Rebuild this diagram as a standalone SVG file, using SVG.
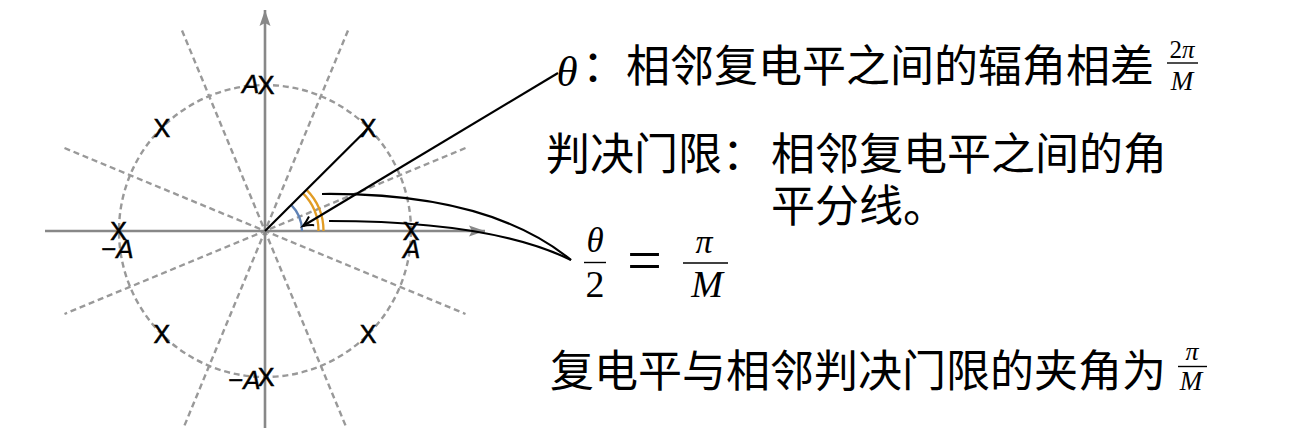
<svg xmlns="http://www.w3.org/2000/svg" width="1316" height="428" viewBox="0 0 1316 428">
<style>
.dash{stroke:#999999;stroke-width:2.4;stroke-dasharray:6 3.8;fill:none}
.axis{stroke:#888888;stroke-width:2.6;fill:none}
.blk{stroke:#000;stroke-width:2.2;fill:none}
.mk{font-family:"Liberation Sans",Arial,sans-serif;font-size:25px;text-anchor:middle;fill:#000;stroke:#000;stroke-width:0.6}
.lab{font-family:"Liberation Sans",Arial,sans-serif;font-size:26px;font-style:italic;fill:#000;stroke:#000;stroke-width:0.4}
.cjk{font-family:"Noto Sans CJK SC","Noto Sans CJK JP",sans-serif;font-size:44px;fill:#000}
.m{font-family:"Liberation Serif","Times New Roman",serif;font-style:italic;fill:#000;text-anchor:middle}
.n{font-family:"Liberation Serif","Times New Roman",serif;fill:#000;text-anchor:middle}
.bar{stroke:#000;stroke-width:1.4}
</style>
<defs>
<marker id="gah" markerUnits="userSpaceOnUse" markerWidth="20" markerHeight="14" refX="0" refY="0" viewBox="-17 -7 18 14" orient="auto" overflow="visible">
<path d="M0,0 L-16,-5.5 L-13,0 L-16,5.5 Z" fill="#888888"/>
</marker>
<marker id="bah" markerUnits="userSpaceOnUse" markerWidth="14" markerHeight="12" refX="0" refY="0" viewBox="-11 -6 12 12" orient="auto" overflow="visible">
<path d="M-10,-5 Q-4,-1.2 0,0 Q-4,1.2 -10,5" fill="none" stroke="#000" stroke-width="2"/>
</marker>
</defs>
<rect width="1316" height="428" fill="#fff"/>
<g id="grid">
<line class="dash" x1="465.5" y1="148" x2="64.5" y2="314"/>
<line class="dash" x1="348" y1="30.5" x2="182" y2="431.5"/>
<line class="dash" x1="182" y1="30.5" x2="348" y2="431.5"/>
<line class="dash" x1="64.5" y1="148" x2="465.5" y2="314"/>
<circle class="dash" cx="265" cy="231" r="146"/>
</g>
<g id="axes">
<line class="axis" x1="45" y1="231" x2="485" y2="231" marker-end="url(#gah)"/>
<line class="axis" x1="265" y1="430" x2="265" y2="10" marker-end="url(#gah)"/>
</g>
<g id="arcs">
<path d="M302,231 A37,37 0 0 0 291.16,204.84" stroke="#5E81B5" stroke-width="2.3" fill="none"/>
<path d="M318.5,231 A53.5,53.5 0 0 0 302.83,193.17" stroke="#E19C24" stroke-width="2.3" fill="none"/>
<path d="M323.5,231 A58.5,58.5 0 0 0 306.37,189.63" stroke="#E19C24" stroke-width="2.3" fill="none"/>
</g>
<g id="connectors">
<line class="blk" x1="265" y1="231" x2="366.5" y2="130"/>
<line class="blk" x1="558" y1="73" x2="303" y2="226" marker-end="url(#bah)"/>
<path class="blk" d="M322,194 C420,193 510,210 571,260"/>
<path class="blk" d="M329,221 C420,221 510,230 571,260"/>
</g>
<g id="points">
<text class="mk" x="411" y="240">X</text>
<text class="mk" x="368.2" y="137">X</text>
<text class="mk" x="266" y="94">X</text>
<text class="mk" x="161.8" y="137">X</text>
<text class="mk" x="118.5" y="240">X</text>
<text class="mk" x="161.8" y="343.2">X</text>
<text class="mk" x="266" y="386">X</text>
<text class="mk" x="368.2" y="343.2">X</text>
</g>
<g id="labels">
<text class="lab" x="242" y="93">A</text>
<text class="lab" x="101" y="258">−A</text>
<text class="lab" x="403" y="258">A</text>
<text class="lab" x="228" y="389">−A</text>
</g>
<g id="text1">
<text class="m" x="567" y="86" font-size="43">θ</text>
<text class="cjk" x="582" y="82">：相邻复电平之间的辐角相差</text>
<text class="n" x="1182" y="58" font-size="25">2<tspan font-style="italic">π</tspan></text>
<line class="bar" x1="1167" y1="63" x2="1198" y2="63"/>
<text class="m" x="1182" y="90" font-size="27">M</text>
</g>
<g id="text2">
<text class="cjk" x="546" y="170">判决门限：</text>
<text class="cjk" x="771" y="170">相邻复电平之间的角</text>
<text class="cjk" x="771" y="222">平分线。</text>
</g>
<g id="eq">
<text class="m" x="595" y="252" font-size="35">θ</text>
<line class="bar" x1="584" y1="262.5" x2="606" y2="262.5" stroke-width="1.8"/>
<text class="n" x="595" y="297" font-size="38">2</text>
<text class="n" x="644.5" y="280" font-size="60" textLength="35" lengthAdjust="spacingAndGlyphs">=</text>
<text class="m" x="704" y="253" font-size="34">π</text>
<line class="bar" x1="683" y1="263" x2="728" y2="263" stroke-width="1.8"/>
<text class="m" x="707" y="297" font-size="38">M</text>
</g>
<g id="text3">
<text class="cjk" x="550" y="387">复电平与相邻判决门限的夹角为</text>
<text class="m" x="1192" y="360" font-size="26">π</text>
<line class="bar" x1="1178" y1="366.5" x2="1207" y2="366.5"/>
<text class="m" x="1191" y="390" font-size="27">M</text>
</g>
</svg>
